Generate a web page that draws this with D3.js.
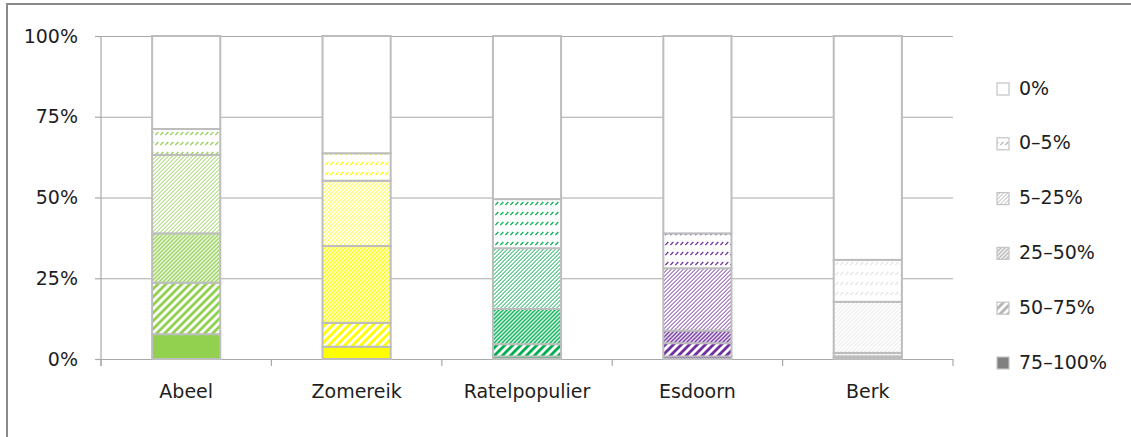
<!DOCTYPE html>
<html>
<head>
<meta charset="utf-8">
<script src="https://cdn.jsdelivr.net/npm/d3@7"></script>
<style>
  html, body { margin: 0; padding: 0; background: #fff; }
  svg { display: block; }
  text { font-family: "DejaVu Sans", sans-serif; fill: #1e1e1e; }
</style>
</head>
<body>
<svg id="chart" width="1131" height="437"></svg>
<script>
// Tree species along the category axis
const categories = ["Abeel", "Zomereik", "Ratelpopulier", "Esdoorn", "Berk"];
const speciesColors = ["#92D050", "#FFFF00", "#00B050", "#7030A0", "#E6E6E6"];

// Damage classes, stacked bottom to top
const classes = ["75–100%", "50–75%", "25–50%", "5–25%", "0–5%", "0%"];

// Share of trees (%) per damage class, one value per species
const share75to100 = [7.7, 3.8, 0.8, 0.8, 0.3];
const share50to75  = [15.9, 7.4, 3.8, 4.1, 0.5];
const share25to50  = [15.3, 23.8, 10.9, 3.9, 1.1];
const share5to25   = [24.3, 20.2, 18.8, 19.3, 15.8];
const share0to5    = [8.0, 8.5, 15.2, 10.8, 13.0];
const share0       = [28.8, 36.3, 50.5, 61.1, 69.3];

const yTicks = [0, 25, 50, 75, 100];

const seriesValues = [share75to100, share50to75, share25to50, share5to25, share0to5, share0];

// Fill style of each class: solid, wide hatch, dark hatch, light hatch, dashed hatch, empty
const fillStyles = ["solid", "wide", "dark", "light", "dash", "none"];

const svg = d3.select("#chart");
const defs = svg.append("defs");

// Outer frame
svg.append("rect")
  .attr("x", 7).attr("y", 4)
  .attr("width", 1140).attr("height", 500)
  .attr("fill", "none").attr("stroke", "#8a8a8a").attr("stroke-width", 2);

const plot = { left: 101, right: 953, top: 36, bottom: 359 };

const x = d3.scaleBand()
  .domain(categories)
  .range([plot.left, plot.right])
  .paddingInner(0.6)
  .paddingOuter(0.3);

const y = d3.scaleLinear().domain([0, 100]).range([plot.bottom, plot.top]);

// Build a hatch pattern of "/" stripes for a colour
function makePattern(id, style, color) {
  const S = Math.SQRT2;
  if (style === "dash") {
    const p = defs.append("pattern")
      .attr("id", id).attr("patternUnits", "userSpaceOnUse")
      .attr("width", 5).attr("height", 10);
    p.append("rect").attr("width", 5).attr("height", 10).attr("fill", "#fff");
    p.append("path")
      .attr("d", "M0.3,5 L3.3,2")
      .attr("stroke", color).attr("stroke-width", 1.3).attr("fill", "none");
    return;
  }
  const spec = { wide: [8, 4], dark: [4, 2.1], light: [4, 1.1] }[style];
  const period = spec[0] / S, thick = spec[1] / S;
  const p = defs.append("pattern")
    .attr("id", id).attr("patternUnits", "userSpaceOnUse")
    .attr("width", period).attr("height", 10)
    .attr("patternTransform", "rotate(45)");
  p.append("rect").attr("width", period).attr("height", 10).attr("fill", "#fff");
  p.append("rect").attr("width", thick).attr("height", 10).attr("fill", color);
}

function fillFor(style, color, id) {
  if (style === "solid") return color;
  if (style === "none") return "#fff";
  makePattern(id, style, color);
  return `url(#${id})`;
}

// Gridlines
const grid = svg.append("g")
  .attr("transform", `translate(${plot.left},0)`)
  .call(d3.axisLeft(y).tickValues(yTicks).tickSize(-(plot.right - plot.left)).tickFormat(""));
grid.select(".domain").remove();
grid.selectAll("line").attr("stroke", "#a9a9a9").attr("stroke-width", 1.2);

// Value axis with labels
const yAxis = svg.append("g")
  .attr("transform", `translate(${plot.left},0)`)
  .call(d3.axisLeft(y).tickValues(yTicks).tickSize(6).tickPadding(17).tickFormat(d => d + "%"));
yAxis.select(".domain").remove();
yAxis.selectAll("line").attr("stroke", "#a9a9a9").attr("stroke-width", 1.2);
yAxis.selectAll("text")
  .attr("font-size", 19).attr("font-family", "DejaVu Sans, sans-serif").attr("fill", "#1e1e1e");

// Vertical axis line
svg.append("line")
  .attr("x1", plot.left).attr("x2", plot.left)
  .attr("y1", y(100)).attr("y2", plot.bottom + 7)
  .attr("stroke", "#a9a9a9").attr("stroke-width", 1.2);

// Category axis ticks at band boundaries
const boundaries = d3.range(categories.length + 1).map(i => plot.left + i * x.step());
svg.append("g").selectAll("line").data(boundaries).join("line")
  .attr("x1", d => d).attr("x2", d => d)
  .attr("y1", plot.bottom).attr("y2", plot.bottom + 7)
  .attr("stroke", "#a9a9a9").attr("stroke-width", 1.2);

// Category labels
svg.append("g").selectAll("text").data(categories).join("text")
  .attr("x", d => x(d) + x.bandwidth() / 2)
  .attr("y", 398)
  .attr("text-anchor", "middle")
  .attr("font-size", 19)
  .text(d => d);

// Stacked bars
const bars = svg.append("g");
categories.forEach((cat, ci) => {
  let base = 0;
  seriesValues.forEach((vals, si) => {
    const v = vals[ci];
    const fill = fillFor(fillStyles[si], speciesColors[ci], `pat-${ci}-${si}`);
    bars.append("rect")
      .attr("x", x(cat))
      .attr("y", y(base + v))
      .attr("width", x.bandwidth())
      .attr("height", y(base) - y(base + v))
      .attr("fill", fill)
      .attr("stroke", "#bdbdbd")
      .attr("stroke-width", 2);
    base += v;
  });
});

// Legend, top entry is the last stacked class
const legendColor = "#808080";
const legendClasses = classes.map((c, i) => ({ label: c, style: fillStyles[i], i })).reverse();
const legend = svg.append("g");
legendClasses.forEach((d, k) => {
  const cy = 88 + k * 54.8;
  const fill = d.style === "solid" ? legendColor
    : d.style === "none" ? "#fff"
    : fillFor(d.style, "#b5b5b5", `leg-${d.i}`);
  legend.append("rect")
    .attr("x", 997).attr("y", cy - 5)
    .attr("width", 12).attr("height", 12)
    .attr("fill", fill)
    .attr("stroke", "#c4c4c4").attr("stroke-width", 1.2);
  legend.append("text")
    .attr("x", 1019).attr("y", cy + 6.5)
    .attr("font-size", 19)
    .text(d.label);
});
</script>
</body>
</html>
